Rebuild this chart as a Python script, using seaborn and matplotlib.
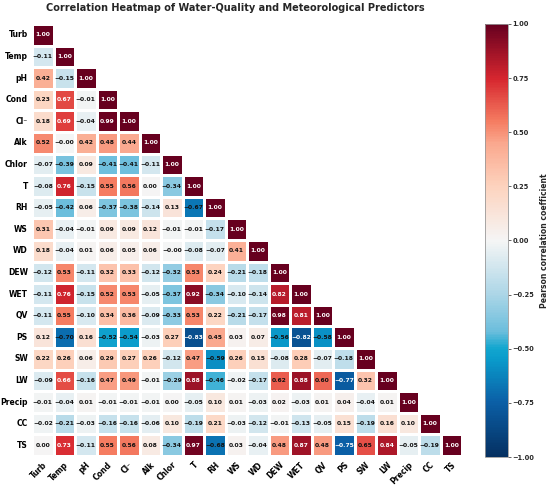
import numpy as np
import pandas as pd
import seaborn as sns
import matplotlib.pyplot as plt
from matplotlib.colors import LinearSegmentedColormap
from matplotlib.ticker import FuncFormatter

labels = ["Turb", "Temp", "pH", "Cond", "Cl⁻", "Alk", "Chlor", "T", "RH", "WS",
          "WD", "DEW", "WET", "QV", "PS", "SW", "LW", "Precip", "CC", "TS"]

rows = [
    [1.00],
    [-0.11, 1.00],
    [0.42, -0.15, 1.00],
    [0.23, 0.67, -0.01, 1.00],
    [0.18, 0.69, -0.04, 0.99, 1.00],
    [0.52, -0.004, 0.42, 0.48, 0.44, 1.00],
    [-0.07, -0.39, 0.09, -0.41, -0.41, -0.11, 1.00],
    [-0.08, 0.76, -0.15, 0.55, 0.56, 0.00, -0.34, 1.00],
    [-0.05, -0.42, 0.06, -0.37, -0.38, -0.14, 0.13, -0.67, 1.00],
    [0.31, -0.04, -0.01, 0.09, 0.09, 0.12, -0.01, -0.01, -0.17, 1.00],
    [0.18, -0.04, 0.01, 0.06, 0.05, 0.06, -0.004, -0.08, -0.07, 0.41, 1.00],
    [-0.12, 0.53, -0.11, 0.32, 0.33, -0.12, -0.32, 0.53, 0.24, -0.21, -0.18, 1.00],
    [-0.11, 0.76, -0.15, 0.52, 0.53, -0.05, -0.37, 0.92, -0.34, -0.10, -0.14, 0.82, 1.00],
    [-0.11, 0.55, -0.10, 0.34, 0.36, -0.09, -0.33, 0.53, 0.22, -0.21, -0.17, 0.98, 0.81, 1.00],
    [0.12, -0.70, 0.16, -0.52, -0.54, -0.03, 0.27, -0.83, 0.45, 0.03, 0.07, -0.56, -0.82, -0.58, 1.00],
    [0.22, 0.26, 0.06, 0.29, 0.27, 0.26, -0.12, 0.47, -0.59, 0.26, 0.15, -0.08, 0.28, -0.07, -0.18, 1.00],
    [-0.09, 0.66, -0.16, 0.47, 0.49, -0.01, -0.29, 0.88, -0.46, -0.02, -0.17, 0.62, 0.88, 0.60, -0.77, 0.32, 1.00],
    [-0.01, -0.04, 0.01, -0.01, -0.01, -0.01, 0.00, -0.05, 0.10, 0.01, -0.03, 0.02, -0.03, 0.01, 0.04, -0.04, 0.01, 1.00],
    [-0.02, -0.21, -0.03, -0.16, -0.16, -0.06, 0.10, -0.19, 0.21, -0.03, -0.12, -0.01, -0.13, -0.05, 0.15, -0.19, 0.16, 0.10, 1.00],
    [0.00, 0.73, -0.11, 0.55, 0.56, 0.08, -0.34, 0.97, -0.68, 0.03, -0.04, 0.48, 0.87, 0.48, -0.75, 0.65, 0.84, -0.05, -0.19, 1.00],
]

cbar_ticks = [-1.00, -0.75, -0.50, -0.25, 0.00, 0.25, 0.50, 0.75, 1.00]

n = len(labels)
M = np.zeros((n, n))
for i, r in enumerate(rows):
    for j, v in enumerate(r):
        M[i, j] = v
        M[j, i] = v
df = pd.DataFrame(M, index=labels, columns=labels)
mask = np.triu(np.ones_like(M, dtype=bool), k=1)

stops = [(-1.00, "#053061"), (-0.75, "#0b5fa6"), (-0.55, "#0a9bcb"),
         (-0.50, "#12a6cf"), (-0.42, "#6cbedc"), (-0.25, "#acd6e7"),
         (0.00, "#f5f5f5"), (0.25, "#fdd3be"), (0.45, "#faa88e"),
         (0.55, "#f57d62"), (0.75, "#d6262f"), (1.00, "#67001f")]
cmap = LinearSegmentedColormap.from_list(
    "custom_rdbu", [((v + 1) / 2, c) for v, c in stops])

sns.set_style("white")
plt.rcParams['font.family'] = ['DejaVu Sans']

fig = plt.figure(figsize=(5.5, 4.86), dpi=100)
ax = fig.add_axes([32/550, 1 - 456/486, 430/550, 432/486])
cax = fig.add_axes([485/550, 1 - 457/486, 23/550, 433/486])

minus_fmt = FuncFormatter(lambda x, pos: f"{x:.2f}".replace("-", "\u2212"))

sns.heatmap(df, mask=mask, cmap=cmap, vmin=-1, vmax=1, center=0,
            annot=True, fmt=".2f",
            annot_kws={"size": 4.3, "weight": "bold"},
            linewidths=0.8, linecolor="white",
            ax=ax, cbar_ax=cax,
            cbar_kws={"ticks": cbar_ticks, "format": minus_fmt})

# annotation colours: light text on the deepest cells; typographic minus
for t in ax.texts:
    s = t.get_text()
    v = float(s)
    t.set_text(s.replace("-", "\u2212"))
    t.set_color("white" if (v >= 0.655 or v <= -0.72) else "#111111")

ax.tick_params(axis="both", length=2, width=0.5, pad=1, colors="#555555",
               labelcolor="black")
ax.set_xticklabels(ax.get_xticklabels(), rotation=45, ha="right",
                   rotation_mode="anchor", fontsize=5.5, fontweight="bold")
ax.set_yticklabels(ax.get_yticklabels(), rotation=0, fontsize=5.5,
                   fontweight="bold")
ax.set_xlabel("")
ax.set_ylabel("")

cbar = ax.collections[0].colorbar
cbar.ax.tick_params(labelsize=4.8, length=2, width=0.5, pad=1)
for t in cbar.ax.get_yticklabels():
    t.set_fontweight("bold")
cbar.outline.set_edgecolor("#999999")
cbar.outline.set_linewidth(0.6)
cbar.set_label("Pearson correlation coefficient", fontsize=5.5,
               fontweight="bold", labelpad=4)

fig.text(235/550, 1 - 8/486,
         "Correlation Heatmap of Water-Quality and Meteorological Predictors",
         fontsize=7, fontweight="bold", ha="center", va="center")

fig.savefig("out.png", dpi=100)
